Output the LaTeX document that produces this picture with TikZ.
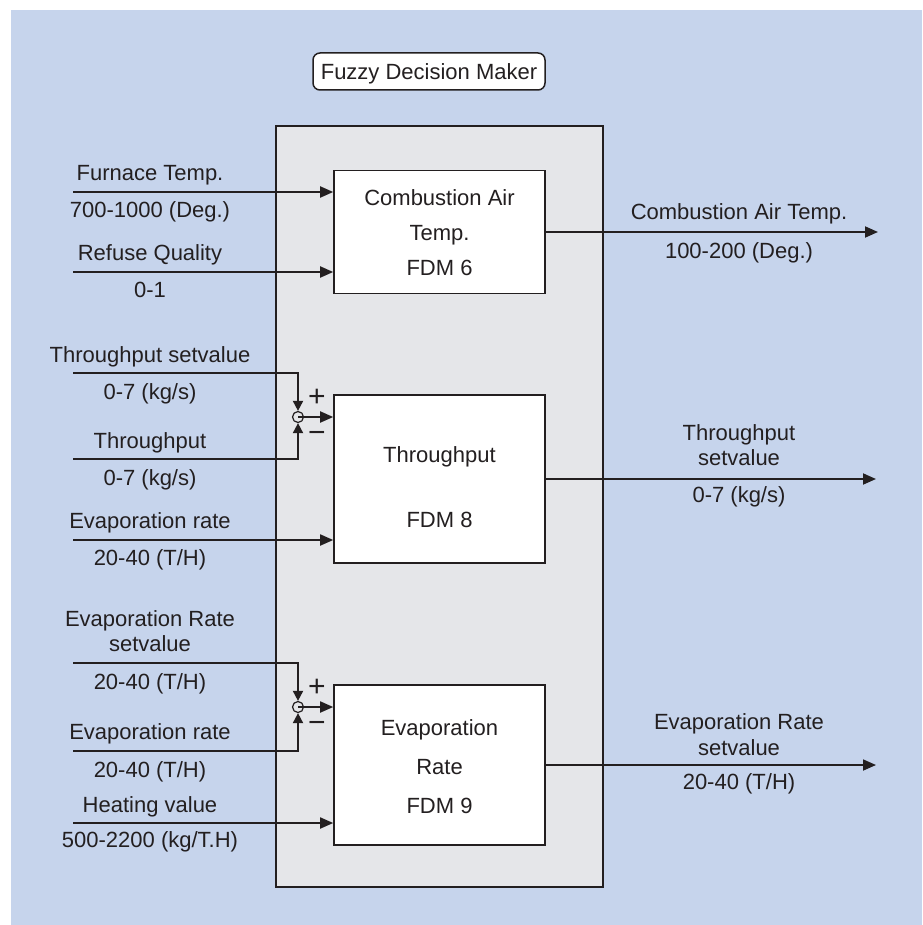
\documentclass[tikz,border=0pt]{standalone}
\usepackage{fontspec}
\setmainfont{Liberation Sans}
\usetikzlibrary{arrows.meta}
\definecolor{bgblue}{HTML}{C6D4EC}
\definecolor{panel}{HTML}{E5E6E9}
\definecolor{ink}{HTML}{231F20}
\begin{document}
\begin{tikzpicture}[x=1pt,y=-1pt,
  every node/.style={font=\fontsize{22}{26}\selectfont, text=ink},
  lbl/.style={inner sep=0pt, text height=15.6pt, text depth=0pt, anchor=center},
  block/.style={draw=ink, fill=white, line width=1.6pt, inner sep=0pt, minimum width=211pt},
  wire/.style={draw=ink, line width=1.8pt},
  arr/.style={wire, -{Triangle[length=13pt,width=11pt]}},
  sumarr/.style={wire, -{Triangle[length=10pt,width=10pt]}},
  junction/.style={circle, draw=ink, line width=1.2pt, minimum size=11pt, inner sep=0pt},
  sign/.style={lbl, font=\fontsize{30}{34}\selectfont}]

% page and background
\useasboundingbox (0,0) rectangle (922,925);
\fill[white] (0,0) rectangle (922,925);
\fill[bgblue] (11,10) rectangle (922,925);

% decision maker panel and title
\node[draw=ink, fill=panel, line width=2.6pt, minimum width=327pt, minimum height=761pt, inner sep=0pt] (fdm) at (439.5,506.5) {};
\node[draw=ink, fill=white, rounded corners=7pt, line width=1.5pt, minimum width=232pt, minimum height=37pt, inner sep=0pt, text height=15.6pt, text depth=0pt] (title) at (429,71.5) {Fuzzy Decision Maker};

% the three FDM blocks
\node[block, minimum height=123pt] (cat) at (439.5,232) {};
\node[block, minimum height=168pt] (thr) at (439.5,479) {};
\node[block, minimum height=160pt] (evr) at (439.5,765) {};

\node[lbl] (cat1) at (439.5,198) {Combustion Air};
\node[lbl] (cat2) at (439.5,233) {Temp.};
\node[lbl] (cat3) at (439.5,268) {FDM 6};
\node[lbl] (thr1) at (439.5,455) {Throughput};
\node[lbl] (thr2) at (439.5,520) {FDM 8};
\node[lbl] (evr1) at (439.5,728) {Evaporation};
\node[lbl] (evr2) at (439.5,767) {Rate};
\node[lbl] (evr3) at (439.5,806) {FDM 9};

% input start points
\coordinate (in1) at (73,192);
\coordinate (in2) at (73,272);
\coordinate (in3) at (73,373);
\coordinate (in4) at (73,459);
\coordinate (in5) at (73,540);
\coordinate (in6) at (73,663);
\coordinate (in7) at (73,751);
\coordinate (in8) at (73,823);

% output end points
\coordinate (out1) at (878,232);
\coordinate (out2) at (876,479);
\coordinate (out3) at (876,765);

% summing junctions
\node[junction] (sum1) at (298,417) {};
\node[junction] (sum2) at (298,707) {};

% combustion air temperature inputs
\draw[arr] (in1) -- (in1 -| cat.west);
\draw[arr] (in2) -- (in2 -| cat.west);

% throughput error and evaporation input
\draw[sumarr] (in3) -| (sum1.north);
\draw[sumarr] (in4) -| (sum1.south);
\draw[arr] (sum1.center) -- (sum1 -| thr.west);
\draw[arr] (in5) -- (in5 -| thr.west);

% evaporation rate error and heating value input
\draw[sumarr] (in6) -| (sum2.north);
\draw[sumarr] (in7) -| (sum2.south);
\draw[arr] (sum2.center) -- (sum2 -| evr.west);
\draw[arr] (in8) -- (in8 -| evr.west);

% outputs
\draw[arr] (cat.east) -- (out1);
\draw[arr] (thr.east) -- (out2);
\draw[arr] (evr.east) -- (out3);

% signs at the junctions
\node[sign] (p1) at (317,399) {+};
\node[sign] (m1) at (317,435) {\char"2212};
\node[sign] (p2) at (317,689) {+};
\node[sign] (m2) at (317,725) {\char"2212};

% input labels
\node[lbl] (l1a) at (150,172.5) {Furnace Temp.};
\node[lbl] (l1b) at (150,209.5) {700-1000 (Deg.)};
\node[lbl] (l2a) at (150,252.5) {Refuse Quality};
\node[lbl] (l2b) at (150,289.5) {0-1};
\node[lbl] (l3a) at (150,354.5) {Throughput setvalue};
\node[lbl] (l3b) at (150,392) {0-7 (kg/s)};
\node[lbl] (l4a) at (150,440.5) {Throughput};
\node[lbl] (l4b) at (150,477.5) {0-7 (kg/s)};
\node[lbl] (l5a) at (150,521) {Evaporation rate};
\node[lbl] (l5b) at (150,557.5) {20-40 (T/H)};
\node[lbl] (l6a) at (150,619) {Evaporation Rate};
\node[lbl] (l6b) at (150,644) {setvalue};
\node[lbl] (l6c) at (150,681.5) {20-40 (T/H)};
\node[lbl] (l7a) at (150,732) {Evaporation rate};
\node[lbl] (l7b) at (150,769.5) {20-40 (T/H)};
\node[lbl] (l8a) at (150,804.5) {Heating value};
\node[lbl] (l8b) at (150,840) {500-2200 (kg/T.H)};

% output labels
\node[lbl] (o1a) at (739,212) {Combustion Air Temp.};
\node[lbl] (o1b) at (739,250.5) {100-200 (Deg.)};
\node[lbl] (o2a) at (739,432.5) {Throughput};
\node[lbl] (o2b) at (739,458) {setvalue};
\node[lbl] (o2c) at (739,495) {0-7 (kg/s)};
\node[lbl] (o3a) at (739,722) {Evaporation Rate};
\node[lbl] (o3b) at (739,747.5) {setvalue};
\node[lbl] (o3c) at (739,781.5) {20-40 (T/H)};
\end{tikzpicture}
\end{document}
